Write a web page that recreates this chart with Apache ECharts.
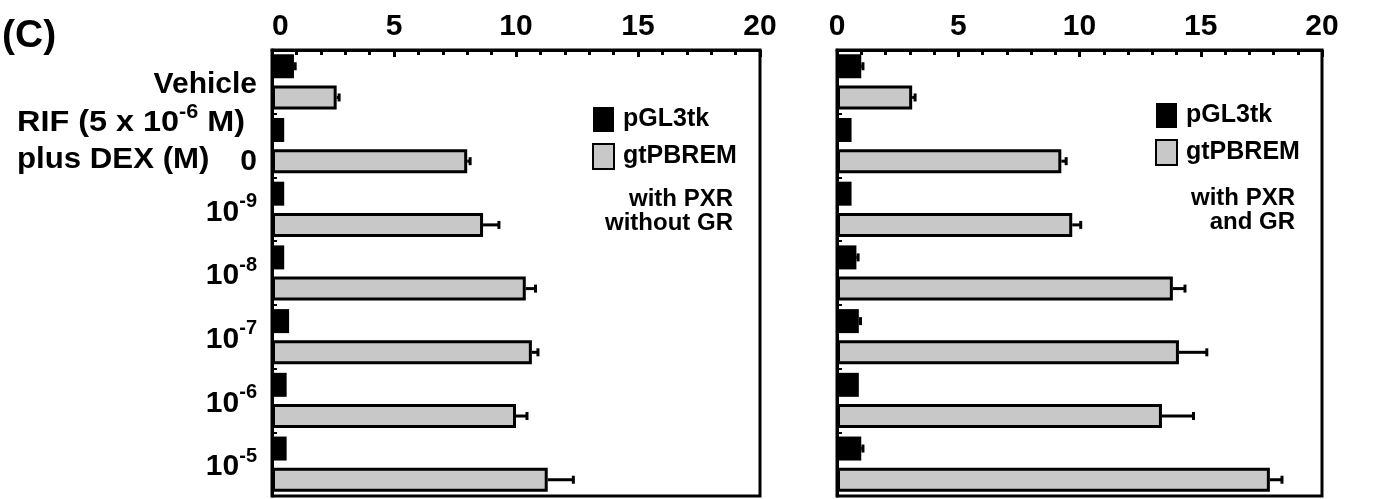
<!DOCTYPE html>
<html>
<head>
<meta charset="utf-8">
<script src="https://cdn.jsdelivr.net/npm/echarts@6/dist/echarts.min.js"></script>
<style>
  html, body { margin: 0; padding: 0; background: #fff; }
  #main { width: 1384px; height: 499px; }
</style>
</head>
<body>
<div id="main"></div>
<script>
// doses of DEX (Vehicle = no RIF)
const categories = ['Vehicle', '0', '10-9', '10-8', '10-7', '10-6', '10-5'];
const xTicks = [0, 5, 10, 15, 20];

// with PXR, without GR
const noGrBase = [0.9, 0.5, 0.5, 0.5, 0.7, 0.6, 0.6];
const noGrBaseErr = [0.05, 0, 0, 0, 0, 0, 0];
const noGrRem = [2.65, 8.0, 8.65, 10.4, 10.65, 10.0, 11.3];
const noGrRemErr = [0.1, 0.12, 0.65, 0.4, 0.25, 0.45, 1.05];

// with PXR and GR
const grBase = [1.0, 0.6, 0.6, 0.8, 0.9, 0.9, 1.0];
const grBaseErr = [0.07, 0, 0, 0.07, 0.07, 0, 0.07];
const grRem = [3.1, 9.25, 9.7, 13.85, 14.1, 13.4, 17.85];
const grRemErr = [0.12, 0.2, 0.35, 0.5, 1.15, 1.3, 0.5];

const FONT = '"Liberation Sans", Arial, Helvetica, sans-serif';
const GRAY = '#c8c8c8';
const BAR_W = 24;
const SHIFT = 15.6; // half distance between the two bars of a group

const chart = echarts.init(document.getElementById('main'));

function catLabel(v) {
  if (v.indexOf('10-') === 0) return '{b|10}{s|' + v.slice(2) + '}';
  if (v === '0') return '{z|0}';
  return '{b|' + v + '}';
}

function errRender(offset) {
  return function (params, api) {
    const cat = api.value(0), v = api.value(1), e = api.value(2);
    if (!e) return;
    const p0 = api.coord([v, cat]);
    const p1 = api.coord([v + e, cat]);
    const y = p0[1] + offset;
    return {
      type: 'group',
      children: [
        { type: 'line', shape: { x1: p0[0], y1: y, x2: p1[0], y2: y }, style: { stroke: '#000', lineWidth: 3 } },
        { type: 'line', shape: { x1: p1[0], y1: y - 4, x2: p1[0], y2: y + 4 }, style: { stroke: '#000', lineWidth: 3 } }
      ]
    };
  };
}

function errData(vals, errs) {
  return vals.map((v, i) => [i, v, errs[i]]);
}

function xAxisFor(idx, minAlign) {
  return {
    gridIndex: idx, type: 'value', position: 'top', min: 0, max: 20, interval: 5,
    axisLine: { show: true, lineStyle: { color: '#000', width: 3 } },
    axisTick: { show: true, inside: true, length: 7, lineStyle: { color: '#000', width: 3 } },
    minorTick: { show: true, splitNumber: 5, length: 5, lineStyle: { color: '#000', width: 3 } },
    splitLine: { show: false },
    axisLabel: { color: '#000', fontFamily: FONT, fontWeight: 'bold', fontSize: 30, margin: 8,
      alignMinLabel: minAlign,
      formatter: v => xTicks.indexOf(v) >= 0 ? String(v) : '' }
  };
}

function yAxisFor(idx, showLabels) {
  const base = { color: '#000', fontFamily: FONT, fontWeight: 'bold', fontSize: 30, lineHeight: 36, verticalAlign: 'bottom' };
  return {
    gridIndex: idx, type: 'category', data: categories, inverse: true,
    axisLine: { show: true, lineStyle: { color: '#000', width: 3 } },
    axisTick: { show: true, inside: true, length: 5, lineStyle: { color: '#000', width: 2 } },
    axisLabel: {
      show: showLabels, margin: 15, formatter: catLabel,
      rich: {
        b: base,
        z: Object.assign({}, base, { lineHeight: 62 }),
        s: { color: '#000', fontFamily: FONT, fontWeight: 'bold', fontSize: 20, lineHeight: 36, verticalAlign: 'top' }
      }
    }
  };
}

function barSeries(name, idx, data, fill, border) {
  return {
    name: name, type: 'bar', xAxisIndex: idx, yAxisIndex: idx, data: data,
    barWidth: BAR_W, barGap: '30%',
    itemStyle: { color: fill, borderColor: '#000', borderWidth: border },
    emphasis: { disabled: true }, silent: true
  };
}

function errSeries(idx, vals, errs, offset) {
  return {
    type: 'custom', xAxisIndex: idx, yAxisIndex: idx, z: 5, silent: true,
    renderItem: errRender(offset), encode: { x: 1, y: 0 },
    data: errData(vals, errs)
  };
}

const legendBase = {
  orient: 'vertical', padding: 0, itemWidth: 21, itemHeight: 25, itemGap: 11, icon: 'rect',
  selectedMode: false, data: ['pGL3tk', 'gtPBREM'],
  textStyle: { color: '#000', fontFamily: FONT, fontWeight: 'bold', fontSize: 25, padding: [0, 0, 0, 4] }
};

function note(text, rightX, cy) {
  return { type: 'text', right: 1384 - rightX, top: cy - 12,
    style: { text: text, font: 'bold 24px ' + FONT, fill: '#000' } };
}

chart.setOption({
  animation: false,
  backgroundColor: '#fff',
  grid: [
    { left: 272, top: 50, width: 488, height: 446, show: true, borderColor: '#000', borderWidth: 3 },
    { left: 837, top: 50, width: 485, height: 446, show: true, borderColor: '#000', borderWidth: 3 }
  ],
  xAxis: [xAxisFor(0, 'left'), xAxisFor(1, 'center')],
  yAxis: [yAxisFor(0, true), yAxisFor(1, false)],
  legend: [
    Object.assign({ left: 592, top: 107 }, legendBase),
    Object.assign({ left: 1155, top: 103 }, legendBase)
  ],
  graphic: [
    { type: 'text', left: 2, top: 17, style: { text: '(C)', font: 'bold 39px ' + FONT, fill: '#000' } },
    { type: 'text', left: 17, top: 102, scaleX: 1.08, style: {
      text: '{a|RIF (5 x 10}{s|-6}{a| M)}', fill: '#000',
      rich: {
        a: { fontFamily: FONT, fontWeight: 'bold', fontSize: 30, lineHeight: 36, verticalAlign: 'bottom' },
        s: { fontFamily: FONT, fontWeight: 'bold', fontSize: 20, lineHeight: 36, verticalAlign: 'top' }
      } } },
    { type: 'text', left: 17, top: 145, scaleX: 1.04, style: { text: 'plus DEX (M)', font: 'bold 30px ' + FONT, fill: '#000' } },
    note('with PXR', 733, 199),
    note('without GR', 733, 223),
    note('with PXR', 1295, 198),
    note('and GR', 1295, 222)
  ],
  series: [
    barSeries('pGL3tk', 0, noGrBase, '#000', 0),
    barSeries('gtPBREM', 0, noGrRem, GRAY, 3),
    barSeries('pGL3tk', 1, grBase, '#000', 0),
    barSeries('gtPBREM', 1, grRem, GRAY, 3),
    errSeries(0, noGrBase, noGrBaseErr, -SHIFT),
    errSeries(0, noGrRem, noGrRemErr, SHIFT),
    errSeries(1, grBase, grBaseErr, -SHIFT),
    errSeries(1, grRem, grRemErr, SHIFT)
  ]
});
</script>
</body>
</html>
